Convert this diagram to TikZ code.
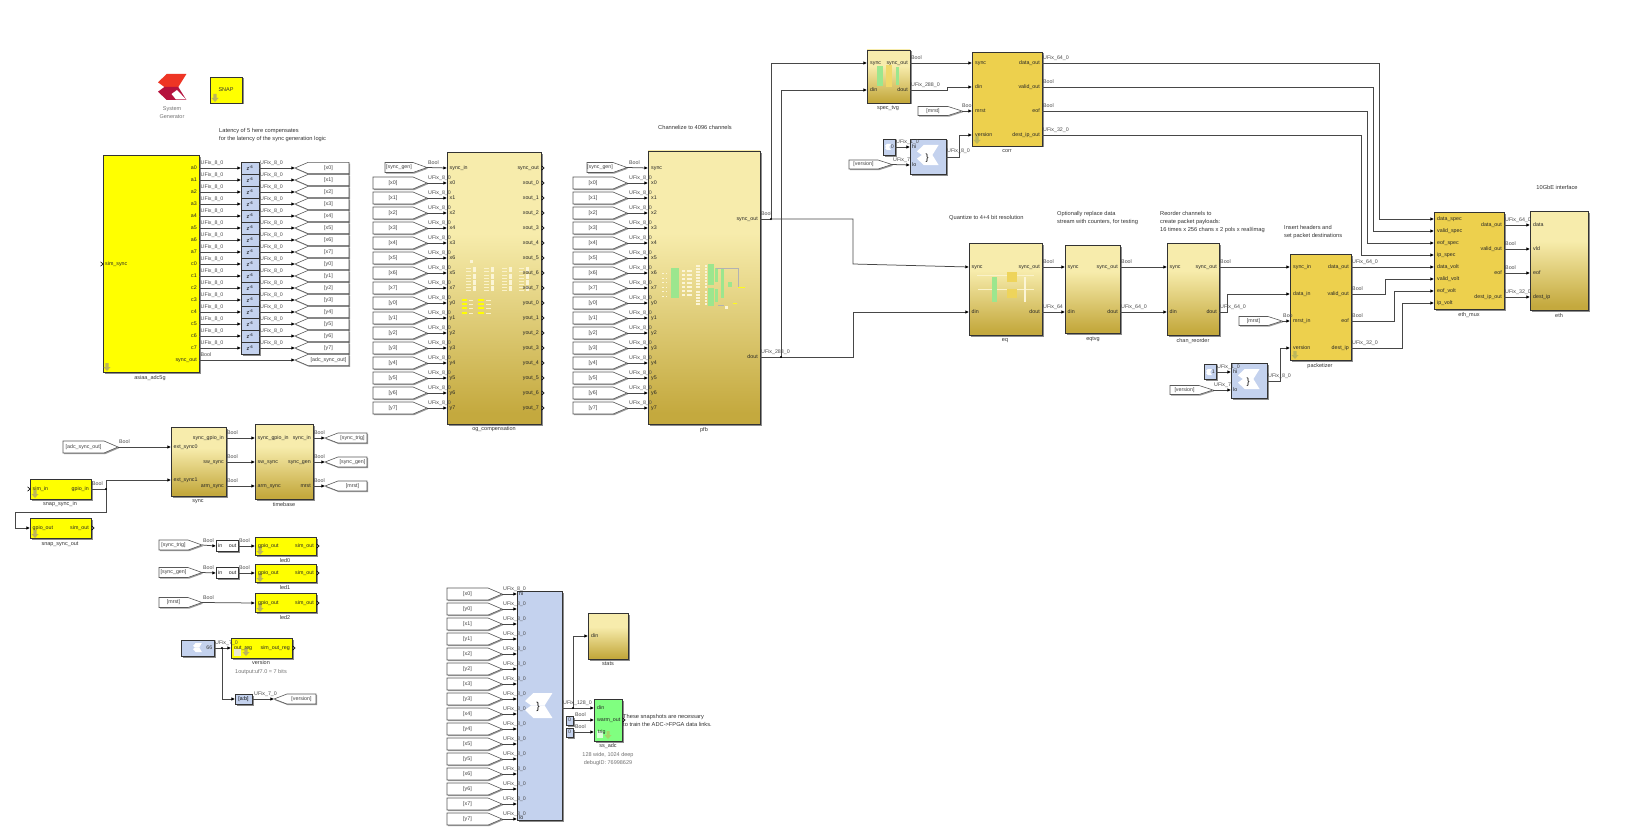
\documentclass[tikz,border=0pt]{standalone}
\usepackage{fontspec}
\usepackage{xcolor}
\setmainfont{Liberation Sans}
\usetikzlibrary{arrows.meta,shadows}

\definecolor{subtop}{HTML}{F7ECAC}
\definecolor{subbot}{HTML}{C4A93E}
\definecolor{xblue}{HTML}{C4D2EE}
\definecolor{gold}{HTML}{EDD04D}
\definecolor{pureyel}{HTML}{FFFF00}
\definecolor{snapgreen}{HTML}{80FF80}
\definecolor{maskgreen}{HTML}{9CE68E}
\definecolor{cream}{HTML}{FBF5D6}
\definecolor{oliv}{HTML}{BDB65A}
\definecolor{xorange}{HTML}{EE3524}
\definecolor{xcrim}{HTML}{B5123E}

\pgfdeclareverticalshading{subsys}{100bp}{color(0bp)=(subbot); color(27bp)=(subbot); color(60bp)=(subtop); color(100bp)=(subtop)}

\tikzset{
	x=1pt, y=-1pt,
	blk/.style={draw=black!80, line width=.8pt, inner sep=0pt, outer sep=0pt,
		general shadow={shadow xshift=1.5pt, shadow yshift=-1.5pt, fill=black!45}},
	subblk/.style={blk, shading=subsys},
	goldblk/.style={blk, fill=gold},
	yelblk/.style={blk, fill=pureyel},
	xblk/.style={blk, fill=xblue},
	snapblk/.style={blk, fill=snapgreen},
	whiteblk/.style={blk, fill=white},
	tagline/.style={draw=black!65, line width=.6pt, fill=white,
		general shadow={shadow xshift=1pt, shadow yshift=-1.2pt, fill=black!40}},
	wire/.style={draw=black!72, line width=.75pt},
	sig/.style={wire, -{Latex[length=3.6pt,width=3.4pt,black]}},
	chev/.style={draw=black, line width=.6pt},
	sigtext/.style={inner sep=0pt, anchor=west, text=black!70, text height=3.9pt, text depth=1pt, font=\fontsize{5.3}{6}\selectfont},
	pinl/.style={inner sep=0pt, anchor=west, text=black!85, text height=3.9pt, text depth=1pt, font=\fontsize{5.3}{6}\selectfont},
	pinr/.style={inner sep=0pt, anchor=east, text=black!85, text height=3.9pt, text depth=1pt, font=\fontsize{5.3}{6}\selectfont},
	tagtext/.style={inner sep=0pt, text=black!75, text height=3.9pt, text depth=1pt, font=\fontsize{5.3}{6}\selectfont},
	blocktext/.style={inner sep=0pt, text=black!80, font=\fontsize{5.5}{6}\selectfont},
	graytext/.style={inner sep=0pt, text=black!55, font=\fontsize{5.5}{8}\selectfont},
	notetext/.style={inner sep=0pt, anchor=north west, align=left, text=black!80, font=\fontsize{5.7}{7.9}\selectfont},
}

\newcommand{\block}[6]{\node[#2, anchor=north west, minimum width={(#5-#3)*1pt}, minimum height={(#6-#4)*1pt}] (#1) at (#3,#4) {};}
\newcommand{\blocklab}[4]{\node[blocktext] (#1) at (#2,#3) {#4};}
\newcommand{\siglab}[4]{\node[sigtext] (#1) at (#2,#3) {#4};}
% tag with its point on the right
\newcommand{\fromtag}[6]{%
	\draw[tagline] (#2,#4-#5) -- (#3-14,#4-#5) -- (#3,#4) -- (#3-14,#4+#5) -- (#2,#4+#5) -- cycle;
	\coordinate (#1) at (#3,#4);
	\node[tagtext] (#1-txt) at ({(#2+#3-14)/2},#4) {[#6]};}
% tag with its point on the left
\newcommand{\gototag}[6]{%
	\draw[tagline] (#2,#4) -- (#2+13,#4-#5) -- (#3,#4-#5) -- (#3,#4+#5) -- (#2+13,#4+#5) -- cycle;
	\coordinate (#1) at (#2,#4);
	\node[tagtext] (#1-txt) at ({(#2+13+#3)/2},#4) {[#6]};}
\newcommand{\dnarrow}[2]{\fill[oliv] (#1-1.7,#2-4) -- (#1+1.7,#2-4) -- (#1+1.7,#2) -- (#1+3.5,#2) -- (#1,#2+4) -- (#1-3.5,#2) -- (#1-1.7,#2) -- cycle;}
\newcommand{\chevron}[2]{\draw[chev] (#1,#2-2.2) -- (#1+2.6,#2) -- (#1,#2+2.2);}
\newcommand{\xlogo}[6]{%
	\begin{scope}[shift={(#1,#2)}, x=#3pt, y=-#4pt]
		\fill[#5] (.30,0) -- (.98,0) -- (.70,.5) -- (.22,.5) -- (0,.32) -- cycle;
		\fill[#6] (.22,.5) -- (.70,.5) -- (.98,1) -- (.30,1) -- (0,.68) -- cycle;
	\end{scope}}

\catcode`\_=12
\begin{document}
\begin{tikzpicture}
	\path[use as bounding box, fill=white] (0,0) rectangle (1638,840);

	% logo and title block
	\xlogo{158}{74}{29}{26}{xorange}{xcrim}
	\fill[white] (177,90) -- (186,99.5) -- (176,99.5) -- (171.5,94) -- cycle;
	\node[graytext, align=center] (sysgen) at (172,113) {System\\Generator};
	\block{snap}{yelblk}{210}{77}{242}{103}
	\node[blocktext] (snap-txt) at (226,90) {SNAP};
	\dnarrow{215}{98}
	\node[notetext] (note-lat) at (219,128.5) {Latency of 5 here compensates\\for the latency of the sync generation logic};

	% adc block, delays and goto tags
	\block{adc}{yelblk}{103}{155}{199}{372}
	\blocklab{adc-lbl}{150}{378}{asiaa_adc5g}
	\dnarrow{107}{367}
	\chevron{100.5}{264}
	\node[pinl] (adc-simsync) at (105,264) {sim_sync};
	\foreach \p/\g [count=\i from 0, evaluate=\i as \yy using 168+12*\i] in {a0/x0,a1/x1,a2/x2,a3/x3,a4/x4,a5/x5,a6/x6,a7/x7,c0/y0,c1/y1,c2/y2,c3/y3,c4/y4,c5/y5,c6/y6,c7/y7} {
		\node[xblk, minimum width=18pt, minimum height=12pt, font=\fontsize{5.5}{5.5}\selectfont] (dly-\i) at (250,\yy) {z\textsuperscript{-6}};
		\gototag{gt-\i}{295}{349}{\yy}{5.6}{\g}
		\coordinate (adc-\p) at (199,\yy);
		\coordinate (dly-in-\i) at (241,\yy);
		\coordinate (dly-out-\i) at (259,\yy);
		\draw[sig] (adc-\p) -- (dly-in-\i);
		\draw[sig] (dly-out-\i) -- (gt-\i);
		\node[pinr] (adc-pin-\i) at (197,\yy) {\p};
		\siglab{ls-a-\i}{200.5}{\yy-5}{UFix_8_0}
		\siglab{ls-b-\i}{260}{\yy-5}{UFix_8_0}
	}
	\gototag{gt-async}{295}{349}{360}{5.6}{adc_sync_out}
	\coordinate (adc-syncout) at (199,360);
	\draw[sig] (adc-syncout) -- (gt-async);
	\node[pinr] (adc-pin-sync) at (197,360) {sync_out};
	\siglab{ls-async}{200.5}{355}{Bool}

	% og_compensation
	\block{og}{subblk}{447}{152}{541}{424}
	\blocklab{og-lbl}{494}{429}{og_compensation}
	\foreach \a/\b [count=\i from 0] in {0/267,1/274,2/280,3/286} {
		\foreach \c in {474,492,510,527} {
			\fill[cream] (\c-1.5,\b) rectangle (\c+1.5,\b+5);
			\fill[cream!70!subtop] (\c-8,\b+1) rectangle (\c-3.5,\b+1.8);
			\fill[cream!70!subtop] (\c-8,\b+3.5) rectangle (\c-3.5,\b+4.3);
		}
	}
	\fill[cream] (470.3,259.8) rectangle (473,262.5);
	\foreach \b in {300,304,308,313} {
		\fill[pureyel] (462,\b-.7) rectangle (467,\b+.7);
		\fill[pureyel] (478,\b-.7) rectangle (484,\b+.7);
		\fill[cream!70!subtop] (469,\b-.4) rectangle (473,\b+.4);
		\fill[cream!70!subtop] (486,\b-.4) rectangle (491,\b+.4);
	}
	\foreach \g [count=\i from 0] in {sync_out,xout_0,xout_1,xout_2,xout_3,xout_4,xout_5,xout_6,xout_7,yout_0,yout_1,yout_2,yout_3,yout_4,yout_5,yout_6,yout_7} {
		\pgfmathsetmacro{\yy}{ifthenelse(\i==0,168,168+15*\i)}
		\chevron{541.5}{\yy}
		\node[pinr] (og-out-\i) at (539,\yy) {\g};
	}
	\fromtag{og-tsync}{385}{427}{167.5}{5}{sync_gen}
	\coordinate (og-sync) at (447,168);
	\draw[sig] (og-tsync) -- (og-sync);
	\node[pinl] (og-pin-sync) at (449.5,168) {sync_in};
	\siglab{ls-og-sync}{428}{163}{Bool}
	\foreach \g/\p [count=\i from 0, evaluate=\i as \yy using 183+15*\i] in {x0/x0,x1/x1,x2/x2,x3/x4,x4/x3,x5/x6,x6/x5,x7/x7,y0/y0,y1/y1,y2/y2,y3/y3,y4/y4,y5/y5,y6/y6,y7/y7} {
		\fromtag{og-t-\i}{373}{427}{\yy}{6}{\g}
		\coordinate (og-in-\i) at (447,\yy);
		\draw[sig] (og-t-\i) -- (og-in-\i);
		\node[pinl] (og-pin-\i) at (449.5,\yy) {\p};
		\siglab{ls-og-\i}{428}{\yy-5}{UFix_8_0}
	}

	% pfb
	\block{pfb}{subblk}{648}{151}{760}{424}
	\blocklab{pfb-lbl}{704}{430}{pfb}
	\node[notetext, anchor=center] (note-chan) at (695,127) {Channelize to 4096 channels};
	\foreach \b in {273,278,282,287,291,296} {
		\fill[cream] (662,\b-.5) rectangle (664,\b+.5);
		\fill[cream] (665.5,\b-.5) rectangle (667,\b+.5);
	}
	\fill[maskgreen] (671,268) rectangle (679,298);
	\foreach \b in {270,274,278,282,286,290,294} {
		\fill[cream] (682,\b) rectangle (684.5,\b+2);
		\fill[cream] (687,\b) rectangle (692,\b+2);
	}
	\foreach \b in {265,268,271,274,277,280,283,286,291,294,297,300,303} {
		\fill[cream] (696,\b) rectangle (700,\b+1.5);
		\fill[cream] (705,\b) rectangle (707,\b+1.5);
	}
	\fill[maskgreen] (708,264) rectangle (714,285);
	\fill[maskgreen] (708,288) rectangle (714,306);
	\fill[maskgreen] (715,268) rectangle (718,282);
	\fill[maskgreen] (715,289) rectangle (718,302);
	\fill[maskgreen] (721,269) rectangle (724,298);
	\fill[maskgreen] (728,282) rectangle (732,287);
	\fill[pureyel!85!subtop] (738,286.5) rectangle (745,287.5);
	\fill[pureyel!85!subtop] (733,302.5) rectangle (737,303.5);
	\fill[cream] (725,306) rectangle (728,309);
	\draw[black!30, line width=.2pt] (716,268) -- (738,268) -- (738,287) (718,305) -- (724,305);
	\fromtag{pfb-tsync}{587}{627}{167.5}{5}{sync_gen}
	\coordinate (pfb-sync) at (648,168);
	\draw[sig] (pfb-tsync) -- (pfb-sync);
	\node[pinl] (pfb-pin-sync) at (651,168) {sync};
	\siglab{ls-pfb-sync}{629}{163}{Bool}
	\foreach \g [count=\i from 0, evaluate=\i as \yy using 183+15*\i] in {x0,x1,x2,x3,x4,x5,x6,x7,y0,y1,y2,y3,y4,y5,y6,y7} {
		\fromtag{pfb-t-\i}{573}{627}{\yy}{6}{\g}
		\coordinate (pfb-in-\i) at (648,\yy);
		\draw[sig] (pfb-t-\i) -- (pfb-in-\i);
		\node[pinl] (pfb-pin-\i) at (651,\yy) {\g};
		\siglab{ls-pfb-\i}{629}{\yy-5}{UFix_8_0}
	}
	\node[pinr] (pfb-pin-so) at (758,219) {sync_out};
	\node[pinr] (pfb-pin-do) at (758,357) {dout};
	\coordinate (pfb-so) at (760,219);
	\coordinate (pfb-do) at (760,357);
	\siglab{ls-pfb-so}{761}{214}{Bool}
	\siglab{ls-pfb-do}{761}{352}{UFix_288_0}

	% spec_tvg and corr
	\block{spectvg}{subblk}{867}{50}{910}{103}
	\blocklab{spectvg-lbl}{888}{108}{spec_tvg}
	\fill[maskgreen] (877,66) rectangle (883,86);
	\fill[gold!70!subtop] (886,65) rectangle (892,87);
	\fill[maskgreen] (896,67) rectangle (899,85);
	\node[pinl] (st-pin-a) at (870,63) {sync};
	\node[pinl] (st-pin-b) at (870,90) {din};
	\node[pinr] (st-pin-c) at (908,63) {sync_out};
	\node[pinr] (st-pin-d) at (908,90) {dout};
	\block{corr}{goldblk}{972}{52}{1042}{146}
	\blocklab{corr-lbl}{1007}{151}{corr}
	\dnarrow{977}{140}
	\foreach \a/\b [count=\i from 0, evaluate=\i as \yy using 63+24*\i] in {sync/data_out,din/valid_out,mrst/eof,version/dest_ip_out} {
		\coordinate (corr-in-\i) at (972,\yy);
		\coordinate (corr-out-\i) at (1042,\yy);
		\node[pinl] (corr-pl-\i) at (975,\yy) {\a};
		\node[pinr] (corr-pr-\i) at (1040,\yy) {\b};
	}
	\coordinate (st-sync) at (867,63);
	\coordinate (st-din) at (867,90);
	\coordinate (st-so) at (910,63);
	\coordinate (st-do) at (910,90);
	\draw[sig] (st-so) -- (corr-in-0);
	\draw[sig] (st-do) -- (947,90) |- (corr-in-1);
	\siglab{ls-st-a}{911}{58}{Bool}
	\siglab{ls-st-b}{911}{85}{UFix_288_0}
	\fromtag{corr-tm}{918}{962}{111}{4.5}{mrst}
	\draw[sig] (corr-tm) -- (corr-in-2);
	\siglab{ls-corr-m}{962}{106}{Boo}
	\block{corr-c0}{xblk}{883}{139}{895}{155}
	\xlogo{885}{144}{6}{6}{white}{white}
	\node[tagtext, anchor=east] (corr-c0-val) at (894,147) {0};
	\block{corr-cat}{xblk}{910}{139}{946}{174}
	\xlogo{917}{145}{22}{20}{white}{white}
	\node[inner sep=0pt, font=\fontsize{9}{9}\selectfont] (corr-cat-b) at (927,158) {\}};
	\node[pinl] (corr-cat-hi) at (912,147) {hi};
	\node[pinl] (corr-cat-lo) at (912,165) {lo};
	\coordinate (corr-c0-o) at (895,147);
	\coordinate (corr-cat-a) at (910,147);
	\coordinate (corr-cat-c) at (910,165);
	\coordinate (corr-cat-o) at (946,157);
	\fromtag{corr-tv}{849}{892}{164.5}{4.5}{version}
	\draw[sig] (corr-c0-o) -- (corr-cat-a);
	\draw[sig] (corr-tv) -- (corr-cat-c);
	\draw[sig] (corr-cat-o) -- (959,157) |- (corr-in-3);
	\siglab{ls-c0}{896}{142}{UFix_1_0}
	\siglab{ls-c1}{893}{160}{UFix_7}
	\siglab{ls-c2}{947}{151}{UFix_8_0}

	% eq, eqtvg and chan_reorder
	\node[notetext] (note-eq) at (949,215) {Quantize to 4+4 bit resolution};
	\node[notetext] (note-eqt) at (1057,211) {Optionally replace data\\stream with counters, for testing};
	\node[notetext] (note-re) at (1160,211) {Reorder channels to\\create packet payloads:\\16 times x 256 chans x 2 pols x real/imag};
	\block{eq}{subblk}{969}{243}{1042}{335}
	\blocklab{eq-lbl}{1005}{341}{eq}
	\draw[cream!70!subtop, line width=.4pt] (977,275) -- (1034,275) (978,289) -- (1034,289);
	\fill[maskgreen] (992,277) rectangle (997,302);
	\fill[gold!85!subtop] (1007,272) rectangle (1017,282);
	\fill[gold!85!subtop] (1007,289) rectangle (1017,298);
	\fill[cream] (1024,277) rectangle (1026,302);
	\block{eqtvg}{subblk}{1065}{245}{1120}{333}
	\blocklab{eqtvg-lbl}{1093}{339}{eqtvg}
	\block{reord}{subblk}{1167}{243}{1219}{335}
	\blocklab{reord-lbl}{1193}{341}{chan_reorder}
	\foreach \n/\l/\r in {eq/969/1042,eqtvg/1065/1120,reord/1167/1219} {
		\coordinate (\n-si) at (\l,267);
		\coordinate (\n-di) at (\l,312);
		\coordinate (\n-so) at (\r,267);
		\coordinate (\n-do) at (\r,312);
		\node[pinl] (\n-p1) at (\l+2.5,267) {sync};
		\node[pinl] (\n-p2) at (\l+2.5,312) {din};
		\node[pinr] (\n-p3) at (\r-2,267) {sync_out};
		\node[pinr] (\n-p4) at (\r-2,312) {dout};
	}
	\draw[sig] (eq-so) -- (eqtvg-si);
	\draw[sig] (eq-do) -- (eqtvg-di);
	\draw[sig] (eqtvg-so) -- (reord-si);
	\draw[sig] (eqtvg-do) -- (reord-di);
	\siglab{ls-eq-a}{1043}{262}{Bool}
	\siglab{ls-eq-b}{1043}{307}{UFix_64}
	\siglab{ls-eqt-a}{1121}{262}{Bool}
	\siglab{ls-eqt-b}{1121}{307}{UFix_64_0}
	\siglab{ls-re-a}{1220}{262}{Bool}
	\siglab{ls-re-b}{1220}{307}{UFix_64_0}

	% wires leaving the pfb
	\coordinate (j-sync) at (771,219);
	\coordinate (j-dout) at (781,357);
	\draw[wire] (pfb-so) -- (j-sync);
	\draw[wire] (pfb-do) -- (j-dout);
	\draw[sig] (j-sync) |- (st-sync);
	\draw[sig] (j-dout) |- (st-din);
	\draw[sig] (j-sync) -- (853,219) -- (853,264) -- (eq-si);
	\draw[sig] (j-dout) -- (853,357) |- (eq-di);
	\fill (j-sync) circle (1.1pt);
	\fill (j-dout) circle (1.1pt);

	% packetizer
	\node[notetext] (note-pk) at (1284,225) {Insert headers and\\set packet destinations};
	\block{pack}{goldblk}{1290}{254}{1351}{360}
	\blocklab{pack-lbl}{1320}{366}{packetizer}
	\dnarrow{1295}{355}
	\foreach \a/\b [count=\i from 0, evaluate=\i as \yy using 267+27*\i] in {sync_in/data_out,data_in/valid_out,mrst_in/eof,version/dest_ip} {
		\coordinate (pack-in-\i) at (1290,\yy);
		\coordinate (pack-out-\i) at (1351,\yy);
		\node[pinl] (pack-pl-\i) at (1293,\yy) {\a};
		\node[pinr] (pack-pr-\i) at (1349,\yy) {\b};
	}
	\draw[sig] (reord-so) -- (pack-in-0);
	\draw[sig] (reord-do) -- (1227,312) |- (pack-in-1);
	\fromtag{pack-tm}{1239}{1282}{321}{4.5}{mrst}
	\draw[sig] (pack-tm) -- (pack-in-2);
	\siglab{ls-pk-m}{1283}{316}{Boo}
	\block{pack-c1}{xblk}{1204}{364}{1216}{379}
	\xlogo{1206}{369}{6}{6}{white}{white}
	\node[tagtext, anchor=east] (pack-c1-val) at (1215,372) {1};
	\block{pack-cat}{xblk}{1231}{363}{1267}{398}
	\xlogo{1238}{369}{22}{20}{white}{white}
	\node[inner sep=0pt, font=\fontsize{9}{9}\selectfont] (pack-cat-b) at (1248,382) {\}};
	\node[pinl] (pack-cat-hi) at (1233,372) {hi};
	\node[pinl] (pack-cat-lo) at (1233,390) {lo};
	\coordinate (pack-c1-o) at (1216,372);
	\coordinate (pack-cat-a) at (1231,372);
	\coordinate (pack-cat-c) at (1231,390);
	\coordinate (pack-cat-o) at (1267,381);
	\fromtag{pack-tv}{1170}{1213}{390}{4.5}{version}
	\draw[sig] (pack-c1-o) -- (pack-cat-a);
	\draw[sig] (pack-tv) -- (pack-cat-c);
	\draw[sig] (pack-cat-o) -- (1280,381) |- (pack-in-3);
	\siglab{ls-p0}{1217}{367}{UFix_1_0}
	\siglab{ls-p1}{1214}{385}{UFix_7}
	\siglab{ls-p2}{1268}{376}{UFix_8_0}
	\siglab{ls-pk-a}{1352}{262}{UFix_64_0}
	\siglab{ls-pk-b}{1352}{289}{Bool}
	\siglab{ls-pk-c}{1352}{316}{Bool}
	\siglab{ls-pk-d}{1352}{343}{UFix_32_0}

	% eth_mux and eth
	\node[notetext, anchor=center] (note-eth) at (1557,187) {10GbE interface};
	\block{mux}{goldblk}{1434}{212}{1504}{309}
	\blocklab{mux-lbl}{1469}{315}{eth_mux}
	\foreach \a [count=\i from 0, evaluate=\i as \yy using 219+12*\i] in {data_spec,valid_spec,eof_spec,ip_spec,data_volt,valid_volt,eof_volt,ip_volt} {
		\coordinate (mux-in-\i) at (1434,\yy);
		\node[pinl] (mux-pl-\i) at (1437,\yy) {\a};
	}
	\block{eth}{subblk}{1530}{211}{1588}{310}
	\blocklab{eth-lbl}{1559}{316}{eth}
	\foreach \a/\b/\c [count=\i from 0, evaluate=\i as \yy using 225+24*\i] in {data_out/data/UFix_64_0,valid_out/vld/Bool,eof/eof/Bool,dest_ip_out/dest_ip/UFix_32_0} {
		\coordinate (mux-out-\i) at (1504,\yy);
		\coordinate (eth-in-\i) at (1530,\yy);
		\draw[sig] (mux-out-\i) -- (eth-in-\i);
		\node[pinr] (mux-pr-\i) at (1502,\yy) {\a};
		\node[pinl] (eth-pl-\i) at (1533,\yy) {\b};
		\siglab{ls-mx-\i}{1505}{\yy-5}{\c}
	}
	\draw[sig] (corr-out-0) -- (1379,63) |- (mux-in-0);
	\draw[sig] (corr-out-1) -- (1373,87) |- (mux-in-1);
	\draw[sig] (corr-out-2) -- (1367,111) |- (mux-in-2);
	\draw[sig] (corr-out-3) -- (1361,135) |- (mux-in-3);
	\draw[sig] (pack-out-0) -- (mux-in-4);
	\draw[sig] (pack-out-1) -- (1385,294) |- (mux-in-5);
	\draw[sig] (pack-out-2) -- (1394,321) |- (mux-in-6);
	\draw[sig] (pack-out-3) -- (1402,348) |- (mux-in-7);
	\siglab{ls-cr-a}{1043}{58}{UFix_64_0}
	\siglab{ls-cr-b}{1043}{82}{Bool}
	\siglab{ls-cr-c}{1043}{106}{Bool}
	\siglab{ls-cr-d}{1043}{130}{UFix_32_0}

	% sync and timebase
	\block{sync}{subblk}{171}{427}{226}{496}
	\blocklab{sync-lbl}{198}{502}{sync}
	\block{tbase}{subblk}{255}{424}{313}{499}
	\blocklab{tbase-lbl}{284}{505}{timebase}
	\fromtag{sync-t}{63}{118}{447}{6}{adc_sync_out}
	\coordinate (sync-in-0) at (171,447);
	\coordinate (sync-in-1) at (171,480);
	\draw[sig] (sync-t) -- (sync-in-0);
	\node[pinl] (sync-pl-0) at (173.5,447) {ext_sync0};
	\node[pinl] (sync-pl-1) at (173.5,480) {ext_sync1};
	\siglab{ls-sy-t}{119}{442}{Bool}
	\foreach \a/\b/\c/\d [count=\i from 0, evaluate=\i as \yy using 438+24*\i] in {sync_gpio_in/sync_gpio_in/sync_in/sync_trig,sw_sync/sw_sync/sync_gen/sync_gen,arm_sync/arm_sync/mrst/mrst} {
		\coordinate (sync-out-\i) at (226,\yy);
		\coordinate (tb-in-\i) at (255,\yy);
		\coordinate (tb-out-\i) at (313,\yy);
		\gototag{tb-g-\i}{325}{367}{\yy}{5}{\d}
		\draw[sig] (sync-out-\i) -- (tb-in-\i);
		\draw[sig] (tb-out-\i) -- (tb-g-\i);
		\node[pinr] (sync-pr-\i) at (224,\yy) {\a};
		\node[pinl] (tb-pl-\i) at (257.5,\yy) {\b};
		\node[pinr] (tb-pr-\i) at (311,\yy) {\c};
		\siglab{ls-sy-\i}{227}{\yy-5}{Bool}
		\siglab{ls-tb-\i}{314}{\yy-5}{Bool}
	}

	% snap gpio blocks
	\block{ssin}{yelblk}{30}{479}{91}{499}
	\blocklab{ssin-lbl}{60}{504}{snap_sync_in}
	\dnarrow{35}{494}
	\chevron{27.5}{489}
	\node[pinl] (ssin-pl) at (32.5,489) {sim_in};
	\node[pinr] (ssin-pr) at (89,489) {gpio_in};
	\block{ssout}{yelblk}{30}{518}{91}{538}
	\blocklab{ssout-lbl}{60}{544}{snap_sync_out}
	\dnarrow{35}{534}
	\chevron{91.5}{528}
	\node[pinl] (ssout-pl) at (32.5,528) {gpio_out};
	\node[pinr] (ssout-pr) at (89,528) {sim_out};
	\coordinate (ssin-o) at (91,489);
	\coordinate (ssout-i) at (30,528);
	\coordinate (j-gpio) at (106,489);
	\draw[wire] (ssin-o) -- (j-gpio);
	\draw[sig] (j-gpio) |- (sync-in-1);
	\draw[sig] (j-gpio) |- (15,512) |- (ssout-i);
	\fill (j-gpio) circle (1.1pt);
	\siglab{ls-ssin}{92}{484}{Bool}

	% led blocks
	\foreach \n/\g/\ty/\py/\ly in {0/sync_trig/545/546/561,1/sync_gen/572.5/573/588} {
		\fromtag{led-t\n}{159}{202}{\ty}{5}{\g}
		\node[whiteblk, minimum width=22pt, minimum height=11.5pt] (led-b\n) at (227,\py) {};
		\node[pinl] (led-bi\n) at (218,\py) {in};
		\node[pinr] (led-bo\n) at (236.5,\py) {out};
		\coordinate (led-bin\n) at (216,\py);
		\coordinate (led-bou\n) at (238,\py);
		\coordinate (led-in\n) at (255,\py);
		\draw[sig] (led-t\n) -- (led-bin\n);
		\draw[sig] (led-bou\n) -- (led-in\n);
		\siglab{ls-l\n a}{203}{\py-5}{Bool}
		\siglab{ls-l\n b}{239}{\py-5}{Bool}
	}
	\fromtag{led-t2}{159}{202}{602.5}{5}{mrst}
	\coordinate (led-in2) at (255,603);
	\draw[sig] (led-t2) -- (led-in2);
	\siglab{ls-l2a}{203}{598}{Bool}
	\foreach \n/\t/\b/\py/\ly in {0/537/555/546/561,1/564/582/573/588,2/593/612/603/618} {
		\block{led\n}{yelblk}{255}{\t}{316}{\b}
		\blocklab{led\n-lbl}{285}{\ly}{led\n}
		\dnarrow{260}{\b-4}
		\chevron{316.5}{\py}
		\node[pinl] (led\n-pl) at (258,\py) {gpio_out};
		\node[pinr] (led\n-pr) at (314,\py) {sim_out};
	}

	% version register
	\block{ver-c}{xblk}{181}{640}{214}{656}
	\xlogo{193}{643}{9}{9}{white}{white}
	\node[tagtext, anchor=east] (ver-c-val) at (212.5,648) {66};
	\block{ver}{yelblk}{231}{638}{292}{658}
	\blocklab{ver-lbl}{261}{663}{version}
	\node[graytext] (ver-note) at (261,672) {1output:uf7.0 = 7 bits};
	\fill[white!70!oliv] (234,649) rectangle (241,656);
	\dnarrow{246}{652}
	\chevron{292.5}{648}
	\node[pinl] (ver-pl) at (234,648) {out_reg};
	\node[pinr] (ver-pr) at (290,648) {sim_out_reg};
	\node[xblk, minimum width=17pt, minimum height=10pt, font=\fontsize{5.3}{6}\selectfont] (slice) at (243.5,699) {[a:b]};
	\gototag{ver-g}{274}{316}{699}{5}{version}
	\coordinate (ver-c-o) at (214,648);
	\coordinate (ver-in) at (231,648);
	\coordinate (j-ver) at (222,648);
	\coordinate (slice-i) at (235,699);
	\coordinate (slice-o) at (252,699);
	\draw[sig] (ver-c-o) -- (ver-in);
	\draw[sig] (j-ver) |- (slice-i);
	\draw[sig] (slice-o) -- (ver-g);
	\fill (j-ver) circle (1.1pt);
	\siglab{ls-v-a}{215}{643}{UFix_7_0}
	\siglab{ls-v-b}{254}{694}{UFix_7_0}

	% snapshot concat, stats and ss_adc
	\block{bigcat}{xblk}{517}{591}{562}{820}
	\xlogo{525}{693}{28}{25}{white}{white}
	\node[inner sep=0pt, font=\fontsize{10}{10}\selectfont] (bigcat-b) at (538,706.5) {\}};
	\foreach \g [count=\i from 0, evaluate=\i as \yy using 594+15*\i] in {x0,y0,x1,y1,x2,y2,x3,y3,x4,y4,x5,y5,x6,y6,x7,y7} {
		\fromtag{cat-t-\i}{447}{502}{\yy}{6}{\g}
		\coordinate (cat-in-\i) at (517,\yy);
		\draw[sig] (cat-t-\i) -- (cat-in-\i);
		\siglab{ls-cat-\i}{503}{\yy-5}{UFix_8_0}
	}
	\node[pinl] (cat-hi) at (519,594) {hi};
	\node[pinl] (cat-lo) at (519,818) {lo};
	\block{stats}{subblk}{588}{613}{628}{659}
	\blocklab{stats-lbl}{608}{664}{stats}
	\node[pinl] (stats-pl) at (591,636) {din};
	\block{ssadc}{snapblk}{594}{699}{622}{741}
	\blocklab{ssadc-lbl}{608}{746}{ss_adc}
	\fill[white!70!snapgreen] (597,731) rectangle (603,738);
	\fill[oliv!60!snapgreen] (606.5,731) rectangle (609.5,735) (604.5,735) -- (611.5,735) -- (608,739) -- cycle;
	\chevron{622.5}{720}
	\node[pinl] (ss-pl-a) at (597,708) {din};
	\node[pinr] (ss-pl-b) at (620.5,720) {warm_out};
	\node[pinl] (ss-pl-c) at (598,732) {trig};
	\node[graytext, align=center] (ss-note) at (608,759) {128 wide, 1024 deep\\debugID: 76998629};
	\node[notetext] (note-ss) at (623,714) {These snapshots are necessary\\to train the ADC->FPGA data links.};
	\block{ss-c0}{xblk}{566}{716}{573}{725}
	\block{ss-c1}{xblk}{566}{728}{573}{737}
	\node[tagtext] (ss-c0-v) at (569.5,720.5) {0};
	\node[tagtext] (ss-c1-v) at (569.5,732.5) {0};
	\coordinate (cat-o) at (562,708);
	\coordinate (j-cat) at (573,708);
	\coordinate (ss-in-0) at (594,708);
	\coordinate (ss-in-1) at (594,720);
	\coordinate (ss-in-2) at (594,732);
	\coordinate (ss-c0-o) at (573,720);
	\coordinate (ss-c1-o) at (573,732);
	\coordinate (stats-in) at (588,636);
	\draw[sig] (cat-o) -- (ss-in-0);
	\draw[sig] (j-cat) |- (stats-in);
	\draw[sig] (ss-c0-o) -- (ss-in-1);
	\draw[sig] (ss-c1-o) -- (ss-in-2);
	\fill (j-cat) circle (1.1pt);
	\siglab{ls-ss-a}{563}{703}{UFix_128_0}
	\siglab{ls-ss-b}{575}{715}{Bool}
	\siglab{ls-ss-c}{575}{727}{Bool}
\end{tikzpicture}
\end{document}
